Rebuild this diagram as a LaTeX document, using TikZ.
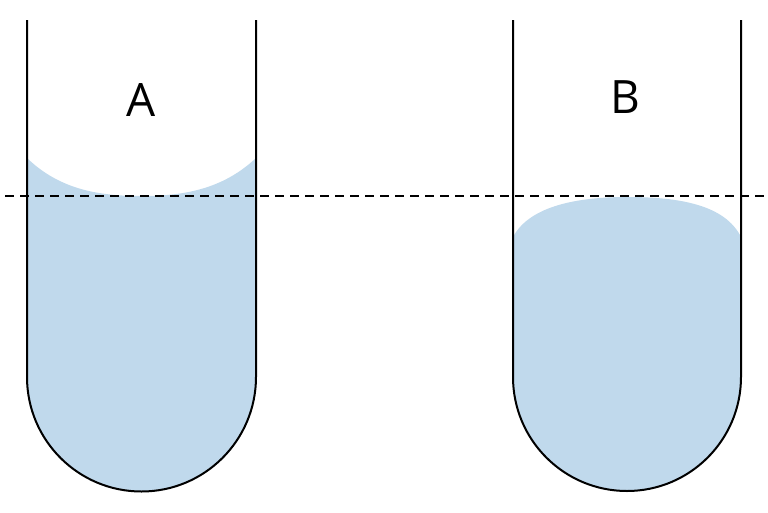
\documentclass[tikz,border=0pt]{standalone}
\usepackage{fontspec}
\setmainfont{Open Sans}
\definecolor{liquid}{RGB}{192,217,236}
\begin{document}
\begin{tikzpicture}[x=1pt,y=-1pt,
  tube/.style={line width=2pt,black},
  fillliq/.style={fill=liquid,draw=none},
  lbl/.style={font=\fontsize{46}{46}\selectfont}]
\useasboundingbox[fill=white] (0,0) rectangle (768,512);
% liquid A
\path[fillliq] (27,158) .. controls (60,190) and (100,196) .. (141,196)
  .. controls (182,196) and (222,190) .. (256,158) -- (256,377)
  arc[start angle=0,end angle=180,radius=114.5] -- cycle;
% liquid B
\path[fillliq] (513,237) .. controls (530,205) and (580,197) .. (627,197)
  .. controls (680,197) and (725,205) .. (741,237) -- (741,377)
  arc[start angle=0,end angle=180,radius=114] -- cycle;
% tubes
\draw[tube] (27,20) -- (27,377) arc[start angle=180,end angle=0,radius=114.5] -- (256,20);
\draw[tube] (513,20) -- (513,377) arc[start angle=180,end angle=0,radius=114] -- (741,20);
% dashed level
\draw[line width=2pt,dash pattern=on 9pt off 6pt] (5,196) -- (768,196);
\node[lbl] (A) at (141,100) {A};
\node[lbl] (B) at (625,97) {B};
\end{tikzpicture}
\end{document}
